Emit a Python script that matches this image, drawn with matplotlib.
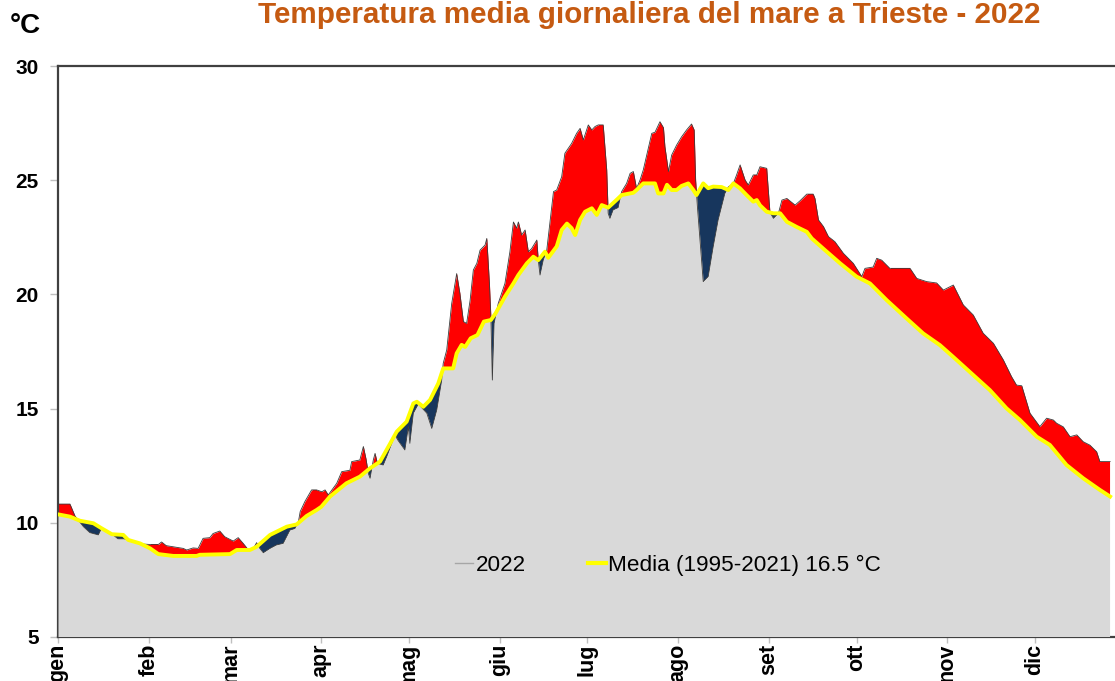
import numpy as np
import matplotlib
matplotlib.use("Agg")
import matplotlib.pyplot as plt
from matplotlib.patches import Polygon
from matplotlib.lines import Line2D

plt.rcParams['font.family'] = ['Liberation Sans', 'DejaVu Sans']

# ---------------- data ----------------
month_labels = ["gen", "feb", "mar", "apr", "mag", "giu",
                "lug", "ago", "set", "ott", "nov", "dic"]
month_starts = [0, 31, 59, 90, 120, 151, 181, 212, 243, 273, 304, 334]

days_2022 = [0, 4.1, 5.8, 8.7, 10.9, 13.8, 14.9, 17, 19, 20.5, 22.5, 24, 26, 28,
             31.5, 34.3, 35.4, 37, 39.4, 42.8, 44, 46.2, 47.9, 49.6, 51.9, 53,
             55.3, 57, 58.8, 59.9, 61.6, 63.3, 65, 66.7, 67.9, 69, 70.2, 72.5,
             74.7, 77, 79.3, 81, 82.2, 82.8, 84.4, 86.7, 88.4, 90.2, 91.3, 92.4,
             95.3, 97, 99.8, 100.4, 103.2, 104.4, 105.3, 106.1, 106.7, 107.8,
             108.4, 109.2, 111.2, 112.4, 115.2, 116.3, 118.6, 119.8, 120.3,
             121.5, 123.2, 124.3, 126.1, 127.8, 129.5, 131.2, 131.7, 132.9,
             134.6, 136.3, 137.4, 138.6, 139.7, 140.9, 142, 143.2, 144.3, 146,
             146.6, 147.5, 148, 148.5, 149.1, 150.5, 152.8, 154.5, 155.7, 156.8,
             157.4, 158.5, 159.7, 160.8, 161.9, 163.7, 164.2, 164.8, 165.9,
             167.1, 168.2, 169.4, 170.5, 172.2, 173.3, 175.6, 177.3, 178.5,
             179.6, 181.3, 182.5, 183.6, 184.7, 186.4, 187.6, 188.1, 188.7,
             189.8, 191.5, 192.7, 194.4, 195.6, 196.7, 197.8, 199, 200.1, 201.8,
             203, 204.1, 205.8, 207, 207.5, 208.7, 209.8, 211.5, 213.2, 214.9,
             216.6, 217.5, 218, 218.6, 219.5, 220.6, 222.3, 224, 225.7, 228,
             229.2, 230.9, 232, 233.2, 234.9, 236, 237.7, 238.9, 240, 242.3,
             243.4, 244.6, 246.3, 247.5, 249.2, 252, 253.7, 256, 258.2, 258.8,
             260, 261.7, 263.4, 265.6, 268.5, 271.9, 274.8, 275.9, 278.7, 279.9,
             281.6, 284.4, 291.3, 293.6, 297, 300.4, 302.7, 306.1, 309.5, 312.9,
             316.3, 319.8, 323.2, 326, 327.7, 329.5, 332.3, 335.7, 338, 340.3,
             341.4, 343.7, 346, 348.3, 350.5, 352.8, 355.1, 356.2, 359.7]
temp_2022 = [10.82, 10.82, 10.3, 9.83, 9.57, 9.47, 9.76, 9.6, 9.45, 9.3, 9.3,
             9.25, 9.15, 9.08, 9.05, 9.05, 9.16, 9.0, 8.95, 8.88, 8.81, 8.9,
             8.88, 9.32, 9.35, 9.53, 9.64, 9.39, 9.27, 9.2, 9.35, 9.1, 8.83,
             8.85, 9.13, 8.88, 8.69, 8.88, 9.03, 9.1, 9.68, 9.75, 10.05, 10.49,
             10.93, 11.44, 11.44, 11.36, 11.44, 11.22, 11.73, 12.24, 12.3,
             12.68, 12.75, 13.34, 12.8, 12.16, 11.95, 12.75, 13.04, 12.6, 12.53,
             12.9, 13.84, 13.6, 13.19, 14.21, 13.48, 14.8, 15.2, 15.05, 14.8,
             14.13, 14.94, 16.25, 16.98, 17.57, 19.6, 20.91, 20.05, 18.81,
             18.73, 19.75, 21.07, 21.36, 21.94, 22.16, 22.45, 20.48, 19.02,
             16.25, 18.73, 19.6, 20.48, 21.87, 23.17, 22.9, 23.17, 22.6, 22.82,
             21.87, 22.0, 22.38, 21.5, 20.85, 21.5, 21.94, 23.17, 24.5, 24.57,
             25.15, 26.18, 26.61, 27.05, 27.27, 26.76, 27.42, 27.2, 27.35,
             27.42, 27.42, 25.45, 23.55, 23.33, 23.7, 23.8, 24.5, 24.86, 25.3,
             25.38, 24.64, 25.01, 25.45, 26.4, 27.05, 27.1, 27.56, 27.3, 26.47,
             25.38, 26.1, 26.54, 26.9, 27.2, 27.46, 27.2, 25.0, 23.85, 22.38,
             20.56, 20.78, 22.08, 23.26, 24.42, 24.71, 24.86, 25.23, 25.67,
             25.01, 24.79, 25.23, 25.23, 25.59, 25.52, 23.6, 23.33, 23.55,
             24.13, 24.2, 23.91, 24.1, 24.39, 24.39, 24.2, 23.26, 22.97, 22.53,
             22.31, 21.8, 21.36, 20.78, 21.14, 21.2, 21.58, 21.5, 21.14, 21.14,
             20.7, 20.56, 20.5, 20.19, 20.41, 19.54, 19.1, 18.3, 17.86, 17.13,
             16.4, 16.03, 16.0, 14.8, 14.21, 14.58, 14.5, 14.36, 14.2, 13.77,
             13.85, 13.55, 13.4, 13.11, 12.68, 12.68]

days_mean = [0, 4.1, 7.5, 12.1, 14.9, 18.4, 22.3, 24, 28, 31.5, 34.3, 39.4,
             47.4, 48.5, 58.8, 61.1, 65.6, 67.9, 72.5, 78.2, 81.6, 85, 88.4, 90,
             93, 98.6, 103.2, 106.7, 110.1, 113.6, 115.8, 119.2, 121.5, 122.7,
             124.9, 127.2, 130, 131.7, 135.1, 136.3, 138, 139.2, 141.1, 143.4,
             145.6, 148, 149.6, 152.8, 155.7, 157.4, 160.3, 162.5, 164.2, 166.5,
             167.6, 170.5, 172.2, 174, 175.6, 176.8, 178.5, 180.2, 182.5, 184.2,
             185.9, 188.1, 190.9, 192.7, 196.7, 197.8, 200.1, 204.1, 205.2, 207,
             208.2, 209.8, 211.5, 213.2, 215.5, 217.2, 218.3, 220.6, 222.3, 224,
             226.9, 229.2, 230.9, 233.2, 235.4, 237.7, 238.9, 240, 242.3, 244.6,
             246.9, 249.2, 252.6, 256, 257.7, 262.2, 267.4, 273, 277.6, 283.3,
             290.1, 295.8, 301.5, 306, 312.9, 318.6, 324.3, 328.9, 334.6, 339.1,
             344.8, 350.5, 356.2, 359.7]
temp_mean = [10.37, 10.27, 10.09, 9.98, 9.76, 9.5, 9.47, 9.25, 9.1, 8.88, 8.63,
             8.55, 8.55, 8.6, 8.63, 8.81, 8.81, 8.95, 9.47, 9.83, 9.93, 10.3,
             10.56, 10.7, 11.15, 11.73, 12.02, 12.39, 12.68, 13.48, 13.99, 14.43,
             15.23, 15.3, 15.08, 15.38, 16.1, 16.76, 16.76, 17.42, 17.79, 17.7,
             18.08, 18.22, 18.81, 18.88, 19.17, 19.9, 20.48, 20.85, 21.36, 21.65,
             21.5, 21.87, 21.6, 22.1, 22.82, 23.1, 22.9, 22.6, 23.26, 23.62,
             23.77, 23.48, 23.91, 23.8, 24.13, 24.35, 24.45, 24.57, 24.86, 24.86,
             24.42, 24.42, 24.8, 24.57, 24.57, 24.75, 24.86, 24.57, 24.35, 24.86,
             24.65, 24.72, 24.7, 24.57, 24.86, 24.64, 24.35, 24.06, 24.13, 23.9,
             23.62, 23.55, 23.55, 23.18, 22.95, 22.74, 22.45, 21.94, 21.36,
             20.78, 20.48, 19.75, 18.95, 18.29, 17.78, 17.27, 16.47, 15.81,
             15.01, 14.5, 13.77, 13.41, 12.53, 11.95, 11.44, 11.15]

y_ticks = [5, 10, 15, 20, 25, 30]

# ---------------- figure ----------------
W, H = 1115, 681
fig = plt.figure(figsize=(W / 100, H / 100), dpi=100)
ax_left, ax_right, ax_top, ax_bottom = 58, 1125.6, 66, 637
ax = fig.add_axes([ax_left / W, 1 - ax_bottom / H,
                   (ax_right - ax_left) / W, (ax_bottom - ax_top) / H])

GRAY = "#D9D9D9"
RED = "#FF0000"
NAVY = "#17365D"
YELLOW = "#FFFF00"

x22 = np.array(days_2022)
y22 = np.array(temp_2022)
xm = np.array(days_mean)
ym = np.array(temp_mean)
base = y_ticks[0]
top = y_ticks[-1]


def region(xs, ys, y_edge):
    """closed polygon between a curve and a horizontal edge (data coords)"""
    return Polygon(np.column_stack([np.r_[xs[0], xs, xs[-1]],
                                    np.r_[y_edge, ys, y_edge]]),
                   closed=True, transform=ax.transData)


# gray: under 2022 and under mean
gray = ax.fill_between(x22, y22, base, color=GRAY, lw=0, zorder=3)
gray.set_clip_path(region(xm, ym, base))
# red: under 2022 but above mean
red = ax.fill_between(x22, y22, base, color=RED, lw=0, zorder=1)
red.set_clip_path(region(xm, ym, top + 1))
# navy: under mean but above 2022
navy = ax.fill_between(xm, ym, base, color=NAVY, lw=0, zorder=2)
navy.set_clip_path(region(x22, y22, top + 1))

# outline of 2022 series
ax.plot(x22, y22, color="#3c3c3c", lw=0.6, zorder=4)
# mean line
ax.plot(xm, ym, color=YELLOW, lw=2.8, zorder=5, solid_joinstyle='round')

ax.set_xlim(0, 365)
ax.set_ylim(base, top)
ax.set_yticks(y_ticks)
ax.set_yticklabels([str(v) for v in y_ticks], fontsize=15, fontweight='bold')
ax.set_xticks(month_starts)
ax.set_xticklabels(month_labels, rotation=90, fontsize=15.5, fontweight='bold',
                   va='top', ha='center')
ax.tick_params(axis='y', length=6, width=1, color='#BFBFBF', pad=8)
ax.tick_params(axis='x', length=4, width=1, color='#BFBFBF', pad=1)

for s in ['left', 'bottom', 'top']:
    ax.spines[s].set_color('#404040')
    ax.spines[s].set_linewidth(1.6)
ax.spines['right'].set_visible(False)
ax.set_facecolor('white')

# legend
handles = [Line2D([], [], color='#A6A6A6', lw=1),
           Line2D([], [], color=YELLOW, lw=3)]
leg = ax.legend(handles, ["2022", "Media (1995-2021) 16.5 °C"],
                loc='center left', bbox_to_anchor=(455 / W, 1 - 565 / H),
                bbox_transform=fig.transFigure, ncol=2, frameon=False,
                fontsize=16.2, handlelength=0.8, handletextpad=0.12,
                columnspacing=2.75, borderpad=0, borderaxespad=0)

# texts
fig.text(10 / W, 1 - 26 / H, "°C", fontsize=20, fontweight='bold',
         ha='left', va='center')
fig.text(649 / W, 1 - 15 / H,
         "Temperatura media giornaliera del mare a Trieste - 2022",
         fontsize=21.3, fontweight='bold', color='#C55A11',
         ha='center', va='center')

fig.savefig("out.png", dpi=100)
